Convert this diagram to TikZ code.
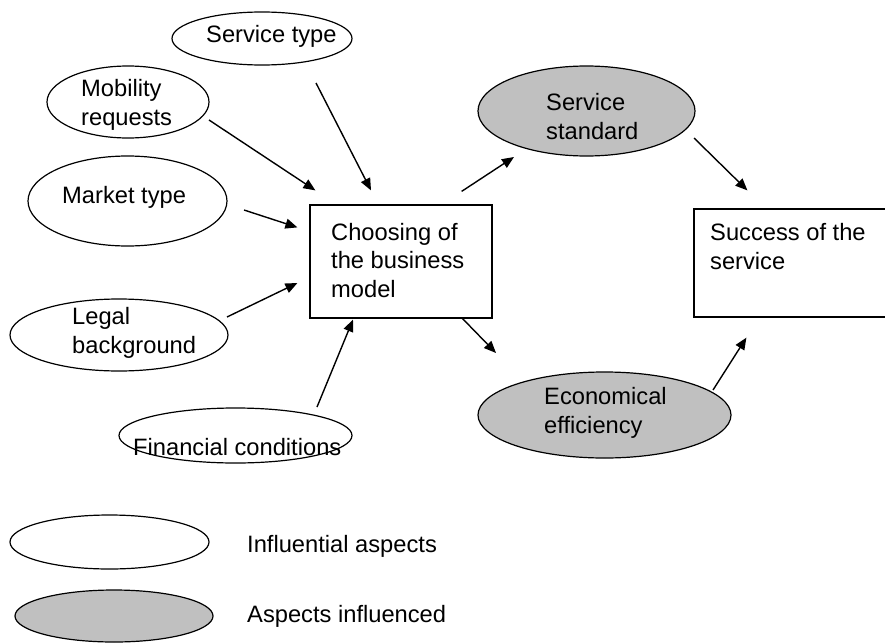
\documentclass[tikz,border=0pt]{standalone}
\usepackage{fontspec}
\setmainfont{Liberation Sans}
\usetikzlibrary{arrows.meta,shapes.geometric}
\definecolor{affgray}{HTML}{C0C0C0}
\begin{document}
\begin{tikzpicture}[x=1pt,y=-1pt,
  infl/.style={draw, ellipse, line width=1.2pt, inner sep=0pt, fill=white},
  affd/.style={infl, fill=affgray},
  boxn/.style={draw, rectangle, line width=1.2pt, inner sep=0pt, fill=white},
  lbl/.style={font=\fontsize{23.7}{28.5}\selectfont, inner sep=0pt, anchor=base west, align=left},
  arr/.style={-{Triangle[length=12pt,width=10pt]}, line width=1.4pt}]
\useasboundingbox (0,0) rectangle (885,642);
\clip (0,0) rectangle (885,642);
% influential aspects
\node[infl, minimum width=180pt, minimum height=53pt] (st) at (262,38.5) {};
\node[infl, minimum width=162pt, minimum height=72pt] (mob) at (128,102) {};
\node[infl, minimum width=199pt, minimum height=90pt] (mkt) at (127.5,201) {};
\node[infl, minimum width=218pt, minimum height=72pt] (leg) at (119,335) {};
\node[infl, minimum width=233pt, minimum height=55pt] (fin) at (235.5,435.5) {};
% aspects influenced
\node[affd, minimum width=217pt, minimum height=90pt] (ss) at (586.5,111) {};
\node[affd, minimum width=253pt, minimum height=86pt] (ee) at (604.5,415) {};
% boxes
\node[boxn, minimum width=182pt, minimum height=113pt] (ch) at (401,261.5) {};
\node[boxn, minimum width=201pt, minimum height=108pt] (suc) at (794.5,263) {};
% legend
\node[infl, minimum width=199pt, minimum height=54pt] (lg1) at (109.5,542) {};
\node[affd, minimum width=198pt, minimum height=52pt] (lg2) at (114,616) {};
% texts (base = baseline of the last line)
\node[lbl] (tst) at (206,42) {Service type};
\node[lbl] (tmob) at (81,125) {Mobility\\requests};
\node[lbl] (tmkt) at (62,203) {Market type};
\node[lbl] (tleg) at (72,353) {Legal\\background};
\node[lbl] (tfin) at (133,455) {Financial conditions};
\node[lbl] (tch) at (331,297) {Choosing of\\the business\\model};
\node[lbl] (tss) at (546,139) {Service\\standard};
\node[lbl] (tee) at (544,433) {Economical\\efficiency};
\node[lbl] (tsuc) at (710,269) {Success of the\\service};
\node[lbl] (tlg1) at (247,552) {Influential aspects};
\node[lbl] (tlg2) at (247,622) {Aspects influenced};
% connectors
\draw[arr] ([shift={(54,44.5)}]st.center) -- ([shift={(-30,-14)}]ch.north);
\draw[arr] ([shift={(81,18)}]mob.center) -- ([shift={(6,-14)}]ch.north west);
\draw[arr] ([shift={(116.5,9)}]mkt.center) -- ([shift={(-12,23)}]ch.north west);
\draw[arr] ([shift={(108,-18)}]leg.center) -- ([shift={(-12,21.5)}]ch.west);
\draw[arr] ([shift={(81.5,-28.5)}]fin.center) -- ([shift={(-48,1)}]ch.south);
\draw[arr] ([shift={(-31,-13)}]ch.north east) -- ([shift={(-72.5,46)}]ss.center);
\draw[arr] ([shift={(107.5,27)}]ss.center) -- ([shift={(54,-18)}]suc.north west);
\draw[arr] ([shift={(-31,-1)}]ch.south east) -- ([shift={(-108.5,-62)}]ee.center);
\draw[arr] ([shift={(108.5,-25)}]ee.center) -- ([shift={(53,20)}]suc.south west);
\end{tikzpicture}
\end{document}
